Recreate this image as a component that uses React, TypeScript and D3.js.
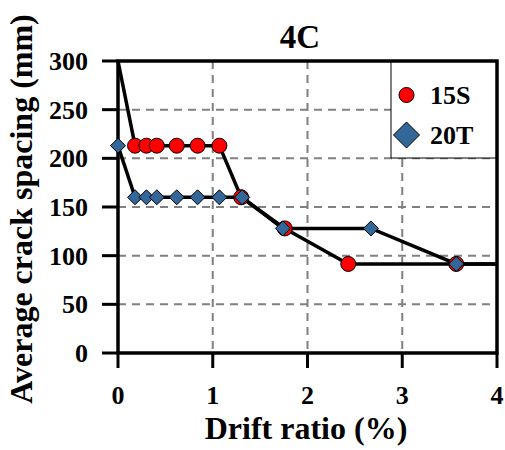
import React from "react";
import * as d3 from "d3";

const xTicks = [0, 1, 2, 3, 4];
const yTicks = [0, 50, 100, 150, 200, 250, 300];

const drift15S = [0, 0.18, 0.3, 0.41, 0.62, 0.84, 1.07, 1.3, 1.76, 2.43, 3.57, 4.0];
const spacing15S = [300, 213, 213, 213, 213, 213, 213, 160, 128, 91.5, 91.5, 91.5];
const marker15S = [false, true, true, true, true, true, true, true, true, true, true, false];

const drift20T = [0, 0.18, 0.3, 0.41, 0.62, 0.84, 1.07, 1.31, 1.74, 2.67, 3.57, 4.0];
const spacing20T = [213, 160, 160, 160, 160, 160, 160, 160, 128, 128, 91.5, 91.5];
const marker20T = [true, true, true, true, true, true, true, true, true, true, true, false];

const seriesNames = ["15S", "20T"];

const W = 505;
const H = 450;
const L = 118, R = 497, T = 61, B = 353;
const FONT = "'Liberation Serif', 'Times New Roman', serif";

export default function App() {
  const x = d3.scaleLinear().domain([0, 4]).range([L, R]);
  const y = d3.scaleLinear().domain([0, 300]).range([B, T]);
  const line = d3
    .line<[number, number]>()
    .x((d) => x(d[0]))
    .y((d) => y(d[1]));

  const pts15 = drift15S.map((d, i) => [d, spacing15S[i]] as [number, number]);
  const pts20 = drift20T.map((d, i) => [d, spacing20T[i]] as [number, number]);

  const diamond = (cx: number, cy: number, r: number) =>
    `M${cx},${cy - r}L${cx + r},${cy}L${cx},${cy + r}L${cx - r},${cy}Z`;

  return (
    <svg
      width={W}
      height={H}
      style={{ position: "absolute", left: 0, top: 0, background: "#fff" }}
      fontFamily={FONT}
    >
      <rect x={0} y={0} width={W} height={H} fill="#fff" />
      {/* grid */}
      {xTicks
        .filter((t) => t > 0 && t < 4)
        .map((t) => (
          <line
            key={"gx" + t}
            x1={x(t)}
            x2={x(t)}
            y1={T}
            y2={B}
            stroke="#808080"
            strokeWidth={2}
            strokeDasharray="8,6"
          />
        ))}
      {yTicks
        .filter((t) => t > 0 && t < 300)
        .map((t) => (
          <line
            key={"gy" + t}
            x1={L}
            x2={R}
            y1={y(t)}
            y2={y(t)}
            stroke="#808080"
            strokeWidth={2}
            strokeDasharray="8,6"
          />
        ))}

      {/* legend box */}
      <rect x={391} y={T} width={R - 391} height={158 - T} fill="#fff" stroke="#000" strokeWidth={1} />
      <circle cx={406.5} cy={95} r={7.5} fill="#ff0000" stroke="#000" strokeWidth={1} />
      <text x={430} y={104} fontSize={26} fontWeight="bold">
        {seriesNames[0]}
      </text>
      <path d={diamond(406.5, 135, 13)} fill="#336699" stroke="#000" strokeWidth={1} />
      <text x={430} y={144} fontSize={26} fontWeight="bold">
        {seriesNames[1]}
      </text>

      {/* series lines */}
      <path d={line(pts15) || ""} fill="none" stroke="#000" strokeWidth={3.5} />
      <path d={line(pts20) || ""} fill="none" stroke="#000" strokeWidth={3.5} />

      {/* frame */}
      <rect x={L} y={T} width={R - L} height={B - T} fill="none" stroke="#000" strokeWidth={3.5} />
      {/* ticks */}
      {xTicks.map((t) => (
        <line key={"tx" + t} x1={x(t)} x2={x(t)} y1={B} y2={B + 15} stroke="#000" strokeWidth={3} />
      ))}
      {yTicks.map((t) => (
        <line key={"ty" + t} x1={L - 16} x2={L} y1={y(t)} y2={y(t)} stroke="#000" strokeWidth={3} />
      ))}

      {/* markers */}
      {pts15.map((p, i) =>
        marker15S[i] ? (
          <circle key={"c" + i} cx={x(p[0])} cy={y(p[1])} r={7.5} fill="#ff0000" stroke="#000" strokeWidth={1} />
        ) : null
      )}
      {pts20.map((p, i) =>
        marker20T[i] ? (
          <path key={"d" + i} d={diamond(x(p[0]), y(p[1]), 7.5)} fill="#336699" stroke="#000" strokeWidth={1} />
        ) : null
      )}

      {/* tick labels */}
      {xTicks.map((t) => (
        <text key={"lx" + t} x={x(t)} y={404} fontSize={26} fontWeight="bold" textAnchor="middle">
          {t}
        </text>
      ))}
      {yTicks.map((t) => (
        <text
          key={"ly" + t}
          x={88}
          y={y(t)}
          dy="0.34em"
          fontSize={26}
          fontWeight="bold"
          textAnchor="end"
        >
          {t}
        </text>
      ))}

      {/* titles */}
      <text x={300} y={48} fontSize={33} fontWeight="bold" textAnchor="middle">
        4C
      </text>
      <text x={306} y={439} fontSize={32} fontWeight="bold" textAnchor="middle">
        Drift ratio (%)
      </text>
      <text
        transform={`translate(32,209) rotate(-90)`}
        fontSize={32}
        fontWeight="bold"
        textAnchor="middle"
      >
        Average crack spacing (mm)
      </text>
    </svg>
  );
}
